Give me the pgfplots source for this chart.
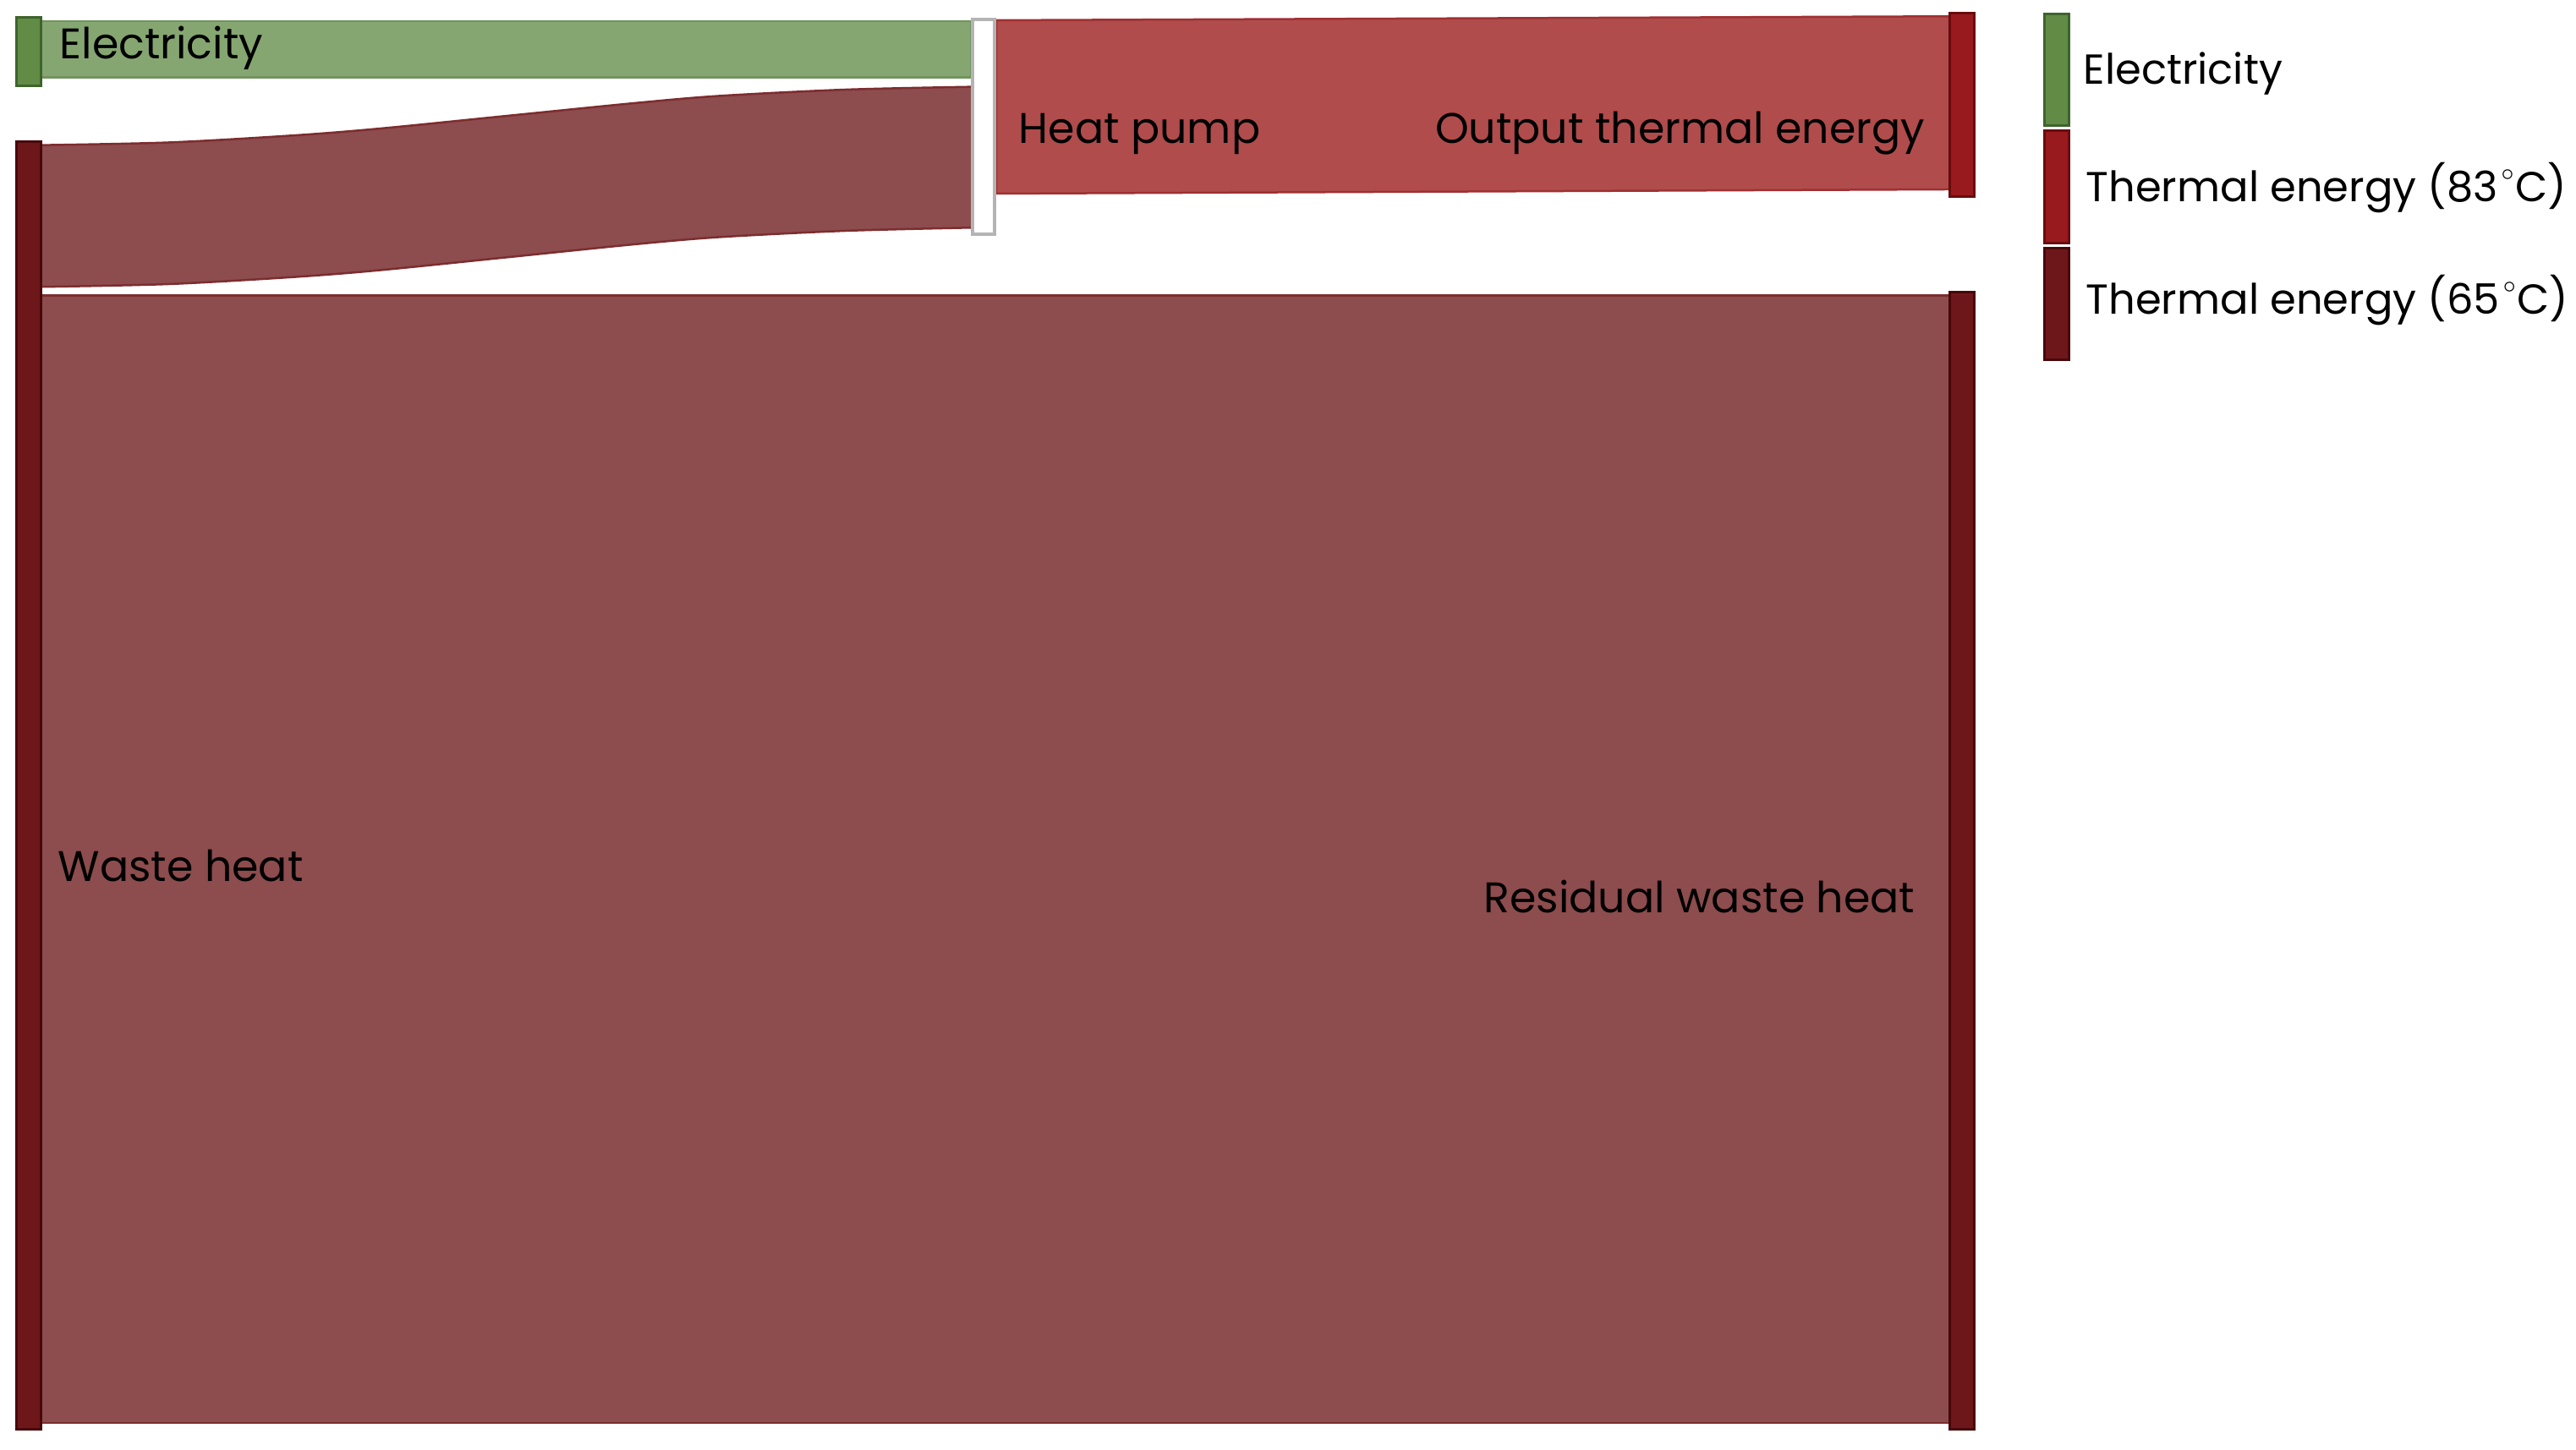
\documentclass[border=0pt]{standalone}
\usepackage{fontspec}
\setmainfont{Poppins}
\usepackage{pgfplots}
\pgfplotsset{compat=1.18}
\usepgfplotslibrary{fillbetween}
\definecolor{elecnode}{RGB}{98,140,70}
\definecolor{elecedge}{RGB}{62,100,44}
\definecolor{elecflow}{RGB}{134,166,113}
\definecolor{elecflowedge}{RGB}{112,148,92}
\definecolor{darknode}{RGB}{110,23,26}
\definecolor{darkedge}{RGB}{72,8,10}
\definecolor{darkflow}{RGB}{141,76,77}
\definecolor{darkflowedge}{RGB}{125,45,47}
\definecolor{rednode}{RGB}{152,26,30}
\definecolor{rededge}{RGB}{105,12,14}
\definecolor{redflow}{RGB}{176,76,76}
\definecolor{redflowedge}{RGB}{160,48,50}
\definecolor{hpedge}{RGB}{180,180,180}
\newcommand{\lab}{\fontsize{14.4pt}{16pt}\selectfont}
\newcommand{\leg}{\fontsize{14.1pt}{16pt}\selectfont}
\newcommand{\degsym}{\kern0.08em\raisebox{0.95ex}{\fontsize{8pt}{8pt}\selectfont$\circ$}\kern0.03em}
\begin{document}
\begin{tikzpicture}
\begin{axis}[
  scale only axis, width=304.6mm, height=171.5mm,
  xmin=0, xmax=3046, ymin=0, ymax=1715, y dir=reverse,
  hide axis, clip=false,
]
\path (rel axis cs:0,0) rectangle (rel axis cs:1,1);
% ---- flows ----
% Electricity -> Heat pump
\addplot[fill=elecflow, draw=elecflowedge, line width=0.25mm] coordinates {(48,25) (1148,25) (1148,91.7) (48,91.7)} -- cycle;
% Waste heat -> Heat pump (curved)
\addplot[name path=wtop, draw=darkflowedge, line width=0.25mm, smooth] coordinates {
 (48,171.7) (200,168.5) (350,160) (450,152) (598,137.2) (750,122) (850,113.5) (1000,106) (1148,102.7)};
\addplot[name path=wbot, draw=darkflowedge, line width=0.25mm, smooth] coordinates {
 (48,339.3) (200,336) (350,327.5) (450,319.5) (598,304.5) (750,289) (850,280.5) (1000,273) (1148,269.3)};
\addplot[darkflow] fill between[of=wtop and wbot];
% Heat pump -> Output thermal energy
\addplot[fill=redflow, draw=redflowedge, line width=0.25mm] coordinates {(1178,24) (2305,19.3) (2305,224) (1178,229)} -- cycle;
% Waste heat -> Residual waste heat
\addplot[fill=darkflow, draw=darkflowedge, line width=0.25mm] coordinates {(48,349.5) (2305,349.5) (2305,1683) (48,1683)} -- cycle;
% ---- nodes ----
\addplot[fill=elecnode, draw=elecedge, line width=0.3mm] coordinates {(19,21) (48,21) (48,102) (19,102)} -- cycle;
\addplot[fill=darknode, draw=darkedge, line width=0.3mm] coordinates {(19,168) (48,168) (48,1691) (19,1691)} -- cycle;
\addplot[fill=white, draw=hpedge, line width=0.4mm] coordinates {(1150,23) (1176,23) (1176,277) (1150,277)} -- cycle;
\addplot[fill=rednode, draw=rededge, line width=0.3mm] coordinates {(2305,16) (2334,16) (2334,233) (2305,233)} -- cycle;
\addplot[fill=darknode, draw=darkedge, line width=0.3mm] coordinates {(2305,346) (2334,346) (2334,1691) (2305,1691)} -- cycle;
% ---- legend swatches ----
\addplot[fill=elecnode, draw=elecedge, line width=0.3mm] coordinates {(2417,17) (2446,17) (2446,149) (2417,149)} -- cycle;
\addplot[fill=rednode, draw=rededge, line width=0.3mm] coordinates {(2417,155) (2446,155) (2446,288) (2417,288)} -- cycle;
\addplot[fill=darknode, draw=darkedge, line width=0.3mm] coordinates {(2417,294) (2446,294) (2446,426) (2417,426)} -- cycle;
% ---- labels ----
\node[anchor=base west, inner sep=0pt, font=\lab] at (axis cs:70,70) {Electricity};
\node[anchor=base west, inner sep=0pt, font=\lab] at (axis cs:68,1043) {Waste heat};
\node[anchor=base west, inner sep=0pt, font=\lab] at (axis cs:1204,170) {Heat pump};
\node[anchor=base east, inner sep=0pt, font=\lab] at (axis cs:2277,170) {Output thermal energy};
\node[anchor=base east, inner sep=0pt, font=\lab] at (axis cs:2265,1080) {Residual waste heat};
\node[anchor=base west, inner sep=0pt, font=\leg] at (axis cs:2463,100) {Electricity};
\node[anchor=base west, inner sep=0pt, font=\leg] at (axis cs:2466,239) {Thermal energy (83\degsym C)};
\node[anchor=base west, inner sep=0pt, font=\leg] at (axis cs:2466,372) {Thermal energy (65\degsym C)};
\end{axis}
\end{tikzpicture}
\end{document}
